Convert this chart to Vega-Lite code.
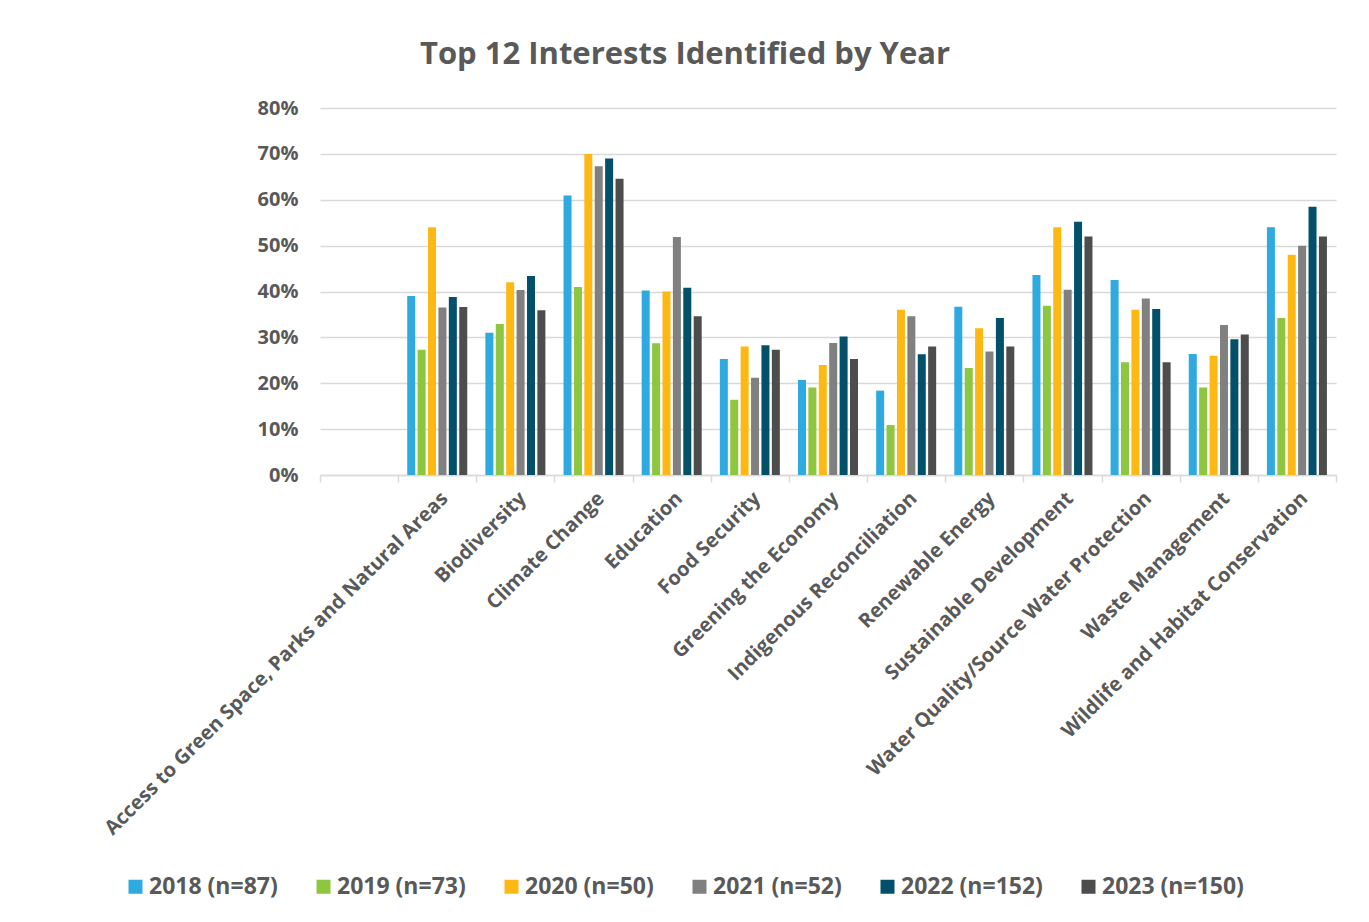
{
  "$schema": "https://vega.github.io/schema/vega-lite/v6.json",
  "autosize": "none",
  "width": 1016,
  "height": 367,
  "padding": {"left": 320, "top": 108, "right": 33, "bottom": 447},
  "background": "white",
  "title": {
    "text": "Top 12 Interests Identified by Year",
    "font": "Open Sans",
    "fontSize": 31,
    "fontWeight": "bold",
    "color": "#595959",
    "anchor": "middle",
    "frame": "group",
    "dx": -143,
    "offset": 27
  },
  "data": {
    "values": [
      {"c": "Access to Green Space, Parks and Natural Areas", "y": "2018 (n=87)", "v": 0.390},
      {"c": "Access to Green Space, Parks and Natural Areas", "y": "2019 (n=73)", "v": 0.273},
      {"c": "Access to Green Space, Parks and Natural Areas", "y": "2020 (n=50)", "v": 0.540},
      {"c": "Access to Green Space, Parks and Natural Areas", "y": "2021 (n=52)", "v": 0.365},
      {"c": "Access to Green Space, Parks and Natural Areas", "y": "2022 (n=152)", "v": 0.388},
      {"c": "Access to Green Space, Parks and Natural Areas", "y": "2023 (n=150)", "v": 0.366},
      {"c": "Biodiversity", "y": "2018 (n=87)", "v": 0.310},
      {"c": "Biodiversity", "y": "2019 (n=73)", "v": 0.329},
      {"c": "Biodiversity", "y": "2020 (n=50)", "v": 0.420},
      {"c": "Biodiversity", "y": "2021 (n=52)", "v": 0.403},
      {"c": "Biodiversity", "y": "2022 (n=152)", "v": 0.434},
      {"c": "Biodiversity", "y": "2023 (n=150)", "v": 0.359},
      {"c": "Climate Change", "y": "2018 (n=87)", "v": 0.609},
      {"c": "Climate Change", "y": "2019 (n=73)", "v": 0.410},
      {"c": "Climate Change", "y": "2020 (n=50)", "v": 0.700},
      {"c": "Climate Change", "y": "2021 (n=52)", "v": 0.673},
      {"c": "Climate Change", "y": "2022 (n=152)", "v": 0.690},
      {"c": "Climate Change", "y": "2023 (n=150)", "v": 0.646},
      {"c": "Education", "y": "2018 (n=87)", "v": 0.402},
      {"c": "Education", "y": "2019 (n=73)", "v": 0.287},
      {"c": "Education", "y": "2020 (n=50)", "v": 0.400},
      {"c": "Education", "y": "2021 (n=52)", "v": 0.519},
      {"c": "Education", "y": "2022 (n=152)", "v": 0.408},
      {"c": "Education", "y": "2023 (n=150)", "v": 0.346},
      {"c": "Food Security", "y": "2018 (n=87)", "v": 0.253},
      {"c": "Food Security", "y": "2019 (n=73)", "v": 0.164},
      {"c": "Food Security", "y": "2020 (n=50)", "v": 0.280},
      {"c": "Food Security", "y": "2021 (n=52)", "v": 0.212},
      {"c": "Food Security", "y": "2022 (n=152)", "v": 0.283},
      {"c": "Food Security", "y": "2023 (n=150)", "v": 0.273},
      {"c": "Greening the Economy", "y": "2018 (n=87)", "v": 0.207},
      {"c": "Greening the Economy", "y": "2019 (n=73)", "v": 0.191},
      {"c": "Greening the Economy", "y": "2020 (n=50)", "v": 0.240},
      {"c": "Greening the Economy", "y": "2021 (n=52)", "v": 0.288},
      {"c": "Greening the Economy", "y": "2022 (n=152)", "v": 0.302},
      {"c": "Greening the Economy", "y": "2023 (n=150)", "v": 0.253},
      {"c": "Indigenous Reconciliation", "y": "2018 (n=87)", "v": 0.184},
      {"c": "Indigenous Reconciliation", "y": "2019 (n=73)", "v": 0.109},
      {"c": "Indigenous Reconciliation", "y": "2020 (n=50)", "v": 0.360},
      {"c": "Indigenous Reconciliation", "y": "2021 (n=52)", "v": 0.346},
      {"c": "Indigenous Reconciliation", "y": "2022 (n=152)", "v": 0.263},
      {"c": "Indigenous Reconciliation", "y": "2023 (n=150)", "v": 0.280},
      {"c": "Renewable Energy", "y": "2018 (n=87)", "v": 0.367},
      {"c": "Renewable Energy", "y": "2019 (n=73)", "v": 0.233},
      {"c": "Renewable Energy", "y": "2020 (n=50)", "v": 0.320},
      {"c": "Renewable Energy", "y": "2021 (n=52)", "v": 0.269},
      {"c": "Renewable Energy", "y": "2022 (n=152)", "v": 0.342},
      {"c": "Renewable Energy", "y": "2023 (n=150)", "v": 0.280},
      {"c": "Sustainable Development", "y": "2018 (n=87)", "v": 0.436},
      {"c": "Sustainable Development", "y": "2019 (n=73)", "v": 0.369},
      {"c": "Sustainable Development", "y": "2020 (n=50)", "v": 0.540},
      {"c": "Sustainable Development", "y": "2021 (n=52)", "v": 0.404},
      {"c": "Sustainable Development", "y": "2022 (n=152)", "v": 0.552},
      {"c": "Sustainable Development", "y": "2023 (n=150)", "v": 0.520},
      {"c": "Water Quality/Source Water Protection", "y": "2018 (n=87)", "v": 0.425},
      {"c": "Water Quality/Source Water Protection", "y": "2019 (n=73)", "v": 0.246},
      {"c": "Water Quality/Source Water Protection", "y": "2020 (n=50)", "v": 0.360},
      {"c": "Water Quality/Source Water Protection", "y": "2021 (n=52)", "v": 0.385},
      {"c": "Water Quality/Source Water Protection", "y": "2022 (n=152)", "v": 0.362},
      {"c": "Water Quality/Source Water Protection", "y": "2023 (n=150)", "v": 0.246},
      {"c": "Waste Management", "y": "2018 (n=87)", "v": 0.264},
      {"c": "Waste Management", "y": "2019 (n=73)", "v": 0.191},
      {"c": "Waste Management", "y": "2020 (n=50)", "v": 0.260},
      {"c": "Waste Management", "y": "2021 (n=52)", "v": 0.327},
      {"c": "Waste Management", "y": "2022 (n=152)", "v": 0.296},
      {"c": "Waste Management", "y": "2023 (n=150)", "v": 0.306},
      {"c": "Wildlife and Habitat Conservation", "y": "2018 (n=87)", "v": 0.540},
      {"c": "Wildlife and Habitat Conservation", "y": "2019 (n=73)", "v": 0.342},
      {"c": "Wildlife and Habitat Conservation", "y": "2020 (n=50)", "v": 0.480},
      {"c": "Wildlife and Habitat Conservation", "y": "2021 (n=52)", "v": 0.500},
      {"c": "Wildlife and Habitat Conservation", "y": "2022 (n=152)", "v": 0.585},
      {"c": "Wildlife and Habitat Conservation", "y": "2023 (n=150)", "v": 0.520}
    ]
  },
  "mark": {"type": "bar"},
  "encoding": {
    "x": {
      "field": "c",
      "type": "nominal",
      "title": null,
      "scale": {
        "domain": [" ", "Access to Green Space, Parks and Natural Areas", "Biodiversity", "Climate Change", "Education", "Food Security", "Greening the Economy", "Indigenous Reconciliation", "Renewable Energy", "Sustainable Development", "Water Quality/Source Water Protection", "Waste Management", "Wildlife and Habitat Conservation"],
        "paddingInner": 0,
        "paddingOuter": 0
      },
      "axis": {
        "labelAngle": -45,
        "labelFont": "Open Sans",
        "labelFontSize": 20,
        "labelFontWeight": "bold",
        "labelColor": "#595959",
        "labelLimit": 0,
        "labelPadding": 6,
        "domainColor": "#D9D9D9",
        "domainWidth": 1.5,
        "tickColor": "#D9D9D9",
        "tickWidth": 1.5,
        "tickSize": 7,
        "tickBand": "extent",
        "grid": false
      }
    },
    "xOffset": {
      "field": "y",
      "type": "nominal",
      "scale": {"paddingInner": 0.23, "paddingOuter": 0.872}
    },
    "y": {
      "field": "v",
      "type": "quantitative",
      "title": null,
      "scale": {"domain": [0, 0.8], "nice": false},
      "axis": {
        "format": ".0%",
        "values": [0, 0.1, 0.2, 0.3, 0.4, 0.5, 0.6, 0.7, 0.8],
        "labelOverlap": false,
        "labelFont": "Open Sans",
        "labelFontSize": 20,
        "labelFontWeight": "bold",
        "labelColor": "#595959",
        "labelPadding": 22,
        "domain": false,
        "ticks": false,
        "gridColor": "#D9D9D9",
        "gridWidth": 1.5
      }
    },
    "color": {
      "field": "y",
      "type": "nominal",
      "title": null,
      "scale": {
        "domain": ["2018 (n=87)", "2019 (n=73)", "2020 (n=50)", "2021 (n=52)", "2022 (n=152)", "2023 (n=150)"],
        "range": ["#2EAAE1", "#8DC63F", "#FDB813", "#808080", "#03506B", "#4D4D4D"]
      },
      "legend": {
        "orient": "none",
        "legendX": -196,
        "legendY": 767,
        "direction": "horizontal",
        "symbolType": "square",
        "symbolSize": 196,
        "symbolStrokeWidth": 0,
        "labelFont": "Open Sans",
        "labelFontSize": 23,
        "labelFontWeight": "bold",
        "labelColor": "#595959",
        "labelOffset": 2,
        "columnPadding": 34,
        "labelLimit": 0
      }
    }
  },
  "config": {"view": {"stroke": null}}
}
